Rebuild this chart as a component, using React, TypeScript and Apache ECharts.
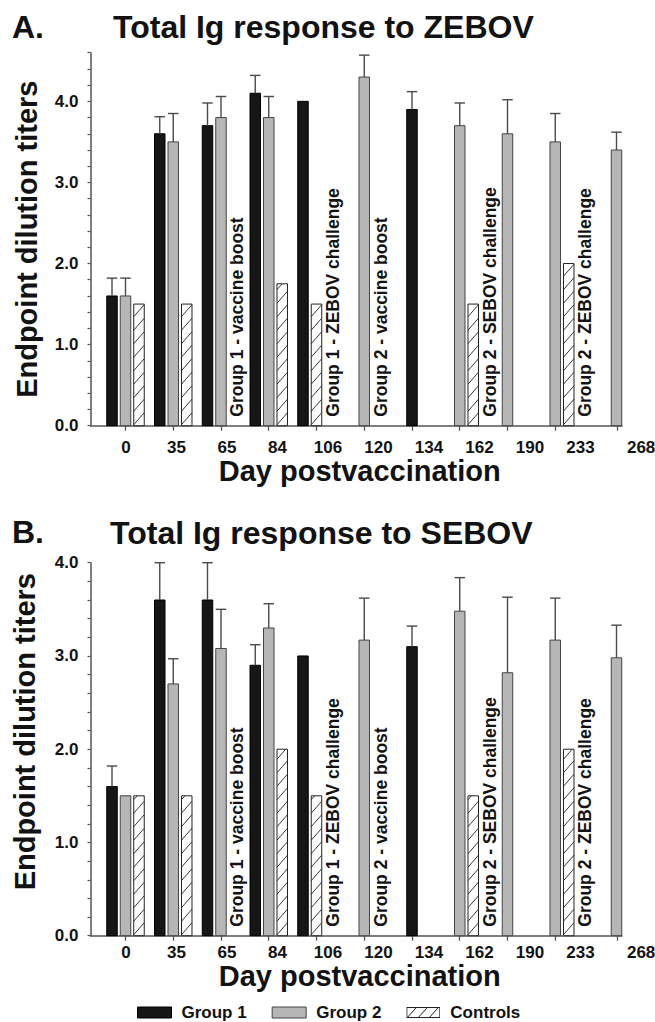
import React, { useEffect, useRef } from "react";
import * as echarts from "echarts";

// ---------- data ----------
const days = ["0", "35", "65", "84", "106", "120", "134", "162", "190", "233", "268"];

// Panel A: Total Ig response to ZEBOV
const zebovGroup1 = [1.6, 3.6, 3.7, 4.1, 4.0, null, 3.9, null, null, null, null];
const zebovGroup1Err = [0.22, 0.21, 0.28, 0.22, 0, null, 0.22, null, null, null, null];
const zebovGroup2 = [1.6, 3.5, 3.8, 3.8, null, 4.3, null, 3.7, 3.6, 3.5, 3.4];
const zebovGroup2Err = [0.22, 0.35, 0.26, 0.26, null, 0.27, null, 0.28, 0.42, 0.35, 0.22];
const zebovControls = [1.5, 1.5, null, 1.75, 1.5, null, null, 1.5, null, 2.0, null];

// Panel B: Total Ig response to SEBOV
const sebovGroup1 = [1.6, 3.6, 3.6, 2.9, 3.0, null, 3.1, null, null, null, null];
const sebovGroup1Err = [0.22, 0.4, 0.4, 0.22, 0, null, 0.22, null, null, null, null];
const sebovGroup2 = [1.5, 2.7, 3.08, 3.3, null, 3.17, null, 3.48, 2.82, 3.17, 2.98];
const sebovGroup2Err = [0, 0.27, 0.42, 0.26, null, 0.45, null, 0.36, 0.81, 0.45, 0.35];
const sebovControls = [1.5, 1.5, null, 2.0, 1.5, null, null, 1.5, null, 2.0, null];

const annotations = [
  { day: "65", text: "Group 1 - vaccine boost" },
  { day: "106", text: "Group 1 - ZEBOV challenge" },
  { day: "120", text: "Group 2 - vaccine boost" },
  { day: "162", text: "Group 2 - SEBOV challenge" },
  { day: "233", text: "Group 2 - ZEBOV challenge" },
];

// ---------- layout (positions within each day slot, in bar steps) ----------
const group1Slot = [-1, -1, -1, -1, -1, 0, 0, 0, 0, 0, 0];
const group2Slot = [0, 0, 0, 0, 0, 0, 0, 0, 0, 0, 1];
const controlsSlot = [1, 1, 1, 1, 0, 1, 1, 1, 1, 1, 1];
const labelSlots = [0, 1, 2, 3, 4, 5, 6, 7, 8, 9, 10.2];
const tickSlots = [0, 1, 2, 3, 4, 5, 6, 7, 8, 9, 10.3];

const FONT = '"Liberation Sans", Arial, Helvetica, sans-serif';
const BAR_STEP = 0.2827; // slot units
const BAR_W = 10.5; // px
const TXT = "#121212";
const AXIS = "#555";

const G1_FILL = "#161616";
const G2_FILL = "#b6b6b6";

function barRenderer(kind: string) {
  return (params: any, api: any) => {
    const slot = api.value(0) as number;
    const off = api.value(1) as number;
    const v = api.value(2) as number;
    const e = api.value(3) as number;
    const xPos = slot + off * BAR_STEP;
    const top = api.coord([xPos, v]);
    const base = api.coord([xPos, 0]);
    const w = BAR_W;
    const x0 = top[0] - w / 2;
    const h = base[1] - top[1];
    const children: any[] = [];
    const fill = kind === "g1" ? G1_FILL : kind === "g2" ? G2_FILL : "#ffffff";
    const stroke = kind === "g1" ? "#000" : kind === "g2" ? "#444" : "#222";
    children.push({
      type: "rect",
      shape: { x: x0, y: top[1], width: w, height: h },
      style: { fill, stroke, lineWidth: 1 },
    });
    if (kind === "ctrl") {
      const rise = 12;
      const gap = 13.5;
      for (let c = base[1] - 1; c > top[1]; c -= gap) {
        let x2 = x0 + w;
        let y2 = c - rise;
        if (y2 < top[1]) {
          const t = (c - top[1]) / rise;
          x2 = x0 + t * w;
          y2 = top[1];
        }
        children.push({
          type: "line",
          shape: { x1: x0, y1: c, x2, y2 },
          style: { stroke: "#222", lineWidth: 0.9 },
        });
      }
    }
    if (e > 0) {
      const et = api.coord([xPos, v + e])[1];
      children.push({
        type: "line",
        shape: { x1: top[0], y1: top[1], x2: top[0], y2: et },
        style: { stroke: "#4a4a4a", lineWidth: 1.4 },
      });
      children.push({
        type: "line",
        shape: { x1: x0, y1: et, x2: x0 + w, y2: et },
        style: { stroke: "#4a4a4a", lineWidth: 1.4 },
      });
    }
    return { type: "group", children };
  };
}

function toData(vals: (number | null)[], errs: (number | null)[] | null, slots: number[]) {
  const out: any[] = [];
  vals.forEach((v, i) => {
    if (v != null) out.push([i, slots[i], v, errs ? errs[i] ?? 0 : 0]);
  });
  return out;
}

function buildPanel(
  p: number,
  cfg: {
    g1: (number | null)[];
    g1e: (number | null)[];
    g2: (number | null)[];
    g2e: (number | null)[];
    c: (number | null)[];
    top: number;
    yMax: number;
    xNameGap: number;
    labelMargin: number;
    yNameGap: number;
    yNamePad: number;
  }
) {
  const gBars = p * 2;
  const gLab = p * 2 + 1;
  const grids = [
    { left: 90.5, right: 33, top: cfg.top, height: 373, containLabel: false, outerBoundsMode: "none" },
    { left: 90.5, right: 0, top: cfg.top, height: 373, containLabel: false, outerBoundsMode: "none" },
  ];
  const xAxes = [
    {
      type: "value",
      gridIndex: gBars,
      min: -0.733,
      max: 10.398,
      axisLine: { show: true, onZero: false, lineStyle: { color: AXIS, width: 1.5 } },
      axisTick: { show: true, length: 5, customValues: tickSlots, lineStyle: { color: AXIS, width: 1.3 } },
      axisLabel: { show: false },
      splitLine: { show: false },
      name: "Day postvaccination",
      nameLocation: "middle",
      nameGap: cfg.xNameGap,
      nameTextStyle: { fontFamily: FONT, fontSize: 29, fontWeight: "bold", color: TXT, padding: [0, 0, 0, 7] },
    },
    {
      type: "value",
      gridIndex: gLab,
      min: -0.703,
      max: 10.475,
      axisLine: { show: false, onZero: false },
      axisTick: { show: false },
      splitLine: { show: false },
      axisLabel: {
        show: true,
        customValues: labelSlots,
        margin: cfg.labelMargin,
        fontFamily: FONT,
        fontSize: 17,
        fontWeight: "bold",
        color: TXT,
        formatter: (v: number) => {
          const i = labelSlots.findIndex((s) => Math.abs(s - v) < 1e-6);
          return i >= 0 ? days[i] : "";
        },
      },
    },
  ];
  const yAxes = [
    {
      type: "value",
      gridIndex: gBars,
      min: 0,
      max: cfg.yMax,
      interval: 0.2,
      axisLine: { show: true, onZero: false, lineStyle: { color: AXIS, width: 1.5 } },
      axisTick: { show: true, length: 3, lineStyle: { color: AXIS, width: 1.2 } },
      splitLine: { show: false },
      axisLabel: {
        margin: 12,
        fontFamily: FONT,
        fontSize: 17,
        fontWeight: "bold",
        color: TXT,
        formatter: (v: number) => (Math.abs(v - Math.round(v)) < 1e-6 ? v.toFixed(1) : ""),
      },
      name: "Endpoint dilution titers",
      nameLocation: "middle",
      nameRotate: 90,
      nameGap: cfg.yNameGap,
      nameTextStyle: {
        fontFamily: FONT,
        fontSize: 29,
        fontWeight: "bold",
        color: TXT,
        padding: [0, 0, 0, cfg.yNamePad],
      },
    },
    { type: "value", gridIndex: gLab, min: 0, max: 1, show: false, axisLine: { show: false, onZero: false } },
  ];

  const annData = annotations.map((a) => {
    const i = days.indexOf(a.day);
    const offs: number[] = [];
    if (cfg.g1[i] != null) offs.push(group1Slot[i]);
    if (cfg.g2[i] != null) offs.push(group2Slot[i]);
    if (cfg.c[i] != null) offs.push(controlsSlot[i]);
    return [i, Math.max(...offs) + 1];
  });

  const series = [
    {
      type: "custom",
      name: "Group 1",
      xAxisIndex: gBars,
      yAxisIndex: gBars,
      itemStyle: { color: G1_FILL },
      renderItem: barRenderer("g1"),
      data: toData(cfg.g1, cfg.g1e, group1Slot),
    },
    {
      type: "custom",
      name: "Group 2",
      xAxisIndex: gBars,
      yAxisIndex: gBars,
      itemStyle: { color: G2_FILL },
      renderItem: barRenderer("g2"),
      data: toData(cfg.g2, cfg.g2e, group2Slot),
    },
    {
      type: "custom",
      name: "Controls",
      xAxisIndex: gBars,
      yAxisIndex: gBars,
      itemStyle: { color: "#ffffff" },
      renderItem: barRenderer("ctrl"),
      data: toData(cfg.c, null, controlsSlot),
    },
    {
      type: "custom",
      name: "annotations-" + p,
      xAxisIndex: gBars,
      yAxisIndex: gBars,
      renderItem: (params: any, api: any) => {
        const slot = api.value(0) as number;
        const off = api.value(1) as number;
        const pt = api.coord([slot + off * BAR_STEP, 0]);
        return {
          type: "text",
          x: pt[0] + 3,
          y: pt[1] - 9,
          rotation: Math.PI / 2,
          style: {
            text: annotations[params.dataIndex].text,
            fontFamily: FONT,
            fontSize: 17.5,
            fontWeight: "bold",
            fill: TXT,
            align: "left",
            verticalAlign: "middle",
          },
        };
      },
      data: annData,
    },
  ];
  return { grids, xAxes, yAxes, series };
}

const hatchIcon =
  "image://data:image/svg+xml;charset=utf-8," +
  encodeURIComponent(
    "<svg xmlns='http://www.w3.org/2000/svg' width='34' height='11' viewBox='0 0 34 11'>" +
      "<rect x='0.5' y='0.5' width='33' height='10' fill='#ffffff' stroke='#222' stroke-width='1'/>" +
      "<line x1='1' y1='10.5' x2='10' y2='0.5' stroke='#222' stroke-width='1'/>" +
      "<line x1='12' y1='10.5' x2='21' y2='0.5' stroke='#222' stroke-width='1'/>" +
      "<line x1='23' y1='10.5' x2='32' y2='0.5' stroke='#222' stroke-width='1'/>" +
      "</svg>"
  );

export default function App() {
  const ref = useRef<HTMLDivElement>(null);
  useEffect(() => {
    if (!ref.current) return;
    const chart = echarts.init(ref.current, undefined, { renderer: "svg", width: 655, height: 1022 });
    const A = buildPanel(0, {
      g1: zebovGroup1,
      g1e: zebovGroup1Err,
      g2: zebovGroup2,
      g2e: zebovGroup2Err,
      c: zebovControls,
      top: 52.7,
      yMax: 4.6,
      xNameGap: 31,
      labelMargin: 13,
      yNameGap: 49,
      yNamePad: 0,
    });
    const B = buildPanel(1, {
      g1: sebovGroup1,
      g1e: sebovGroup1Err,
      g2: sebovGroup2,
      g2e: sebovGroup2Err,
      c: sebovControls,
      top: 562.7,
      yMax: 4.0,
      xNameGap: 26,
      labelMargin: 8,
      yNameGap: 51,
      yNamePad: 35,
    });
    const titleStyle = { fontFamily: FONT, fontSize: 32, fontWeight: "bold", color: TXT };
    chart.setOption({
      animation: false,
      backgroundColor: "#ffffff",
      title: [
        { text: "A.", left: 12, top: 11, padding: 0, textStyle: titleStyle },
        { text: "Total Ig response to ZEBOV", left: 113, top: 11, padding: 0, textStyle: titleStyle },
        { text: "B.", left: 12, top: 516, padding: 0, textStyle: titleStyle },
        { text: "Total Ig response to SEBOV", left: 110, top: 517, padding: 0, textStyle: titleStyle },
      ],
      legend: {
        left: 137,
        top: 1004,
        padding: 0,
        itemWidth: 34,
        itemHeight: 11,
        itemGap: 25,
        selectedMode: false,
        textStyle: { fontFamily: FONT, fontSize: 17, fontWeight: "bold", color: TXT, padding: [0, 0, 0, 5] },
        data: [
          { name: "Group 1", icon: "rect", itemStyle: { color: G1_FILL, borderColor: "#000", borderWidth: 1 } },
          { name: "Group 2", icon: "rect", itemStyle: { color: G2_FILL, borderColor: "#444", borderWidth: 1 } },
          { name: "Controls", icon: hatchIcon },
        ],
      },
      grid: [...A.grids, ...B.grids],
      xAxis: [...A.xAxes, ...B.xAxes],
      yAxis: [...A.yAxes, ...B.yAxes],
      series: [...A.series, ...B.series],
    } as any);
    return () => chart.dispose();
  }, []);
  return (
    <div
      ref={ref}
      style={{ position: "absolute", left: 0, top: 0, width: 655, height: 1022, background: "#fff" }}
    />
  );
}
